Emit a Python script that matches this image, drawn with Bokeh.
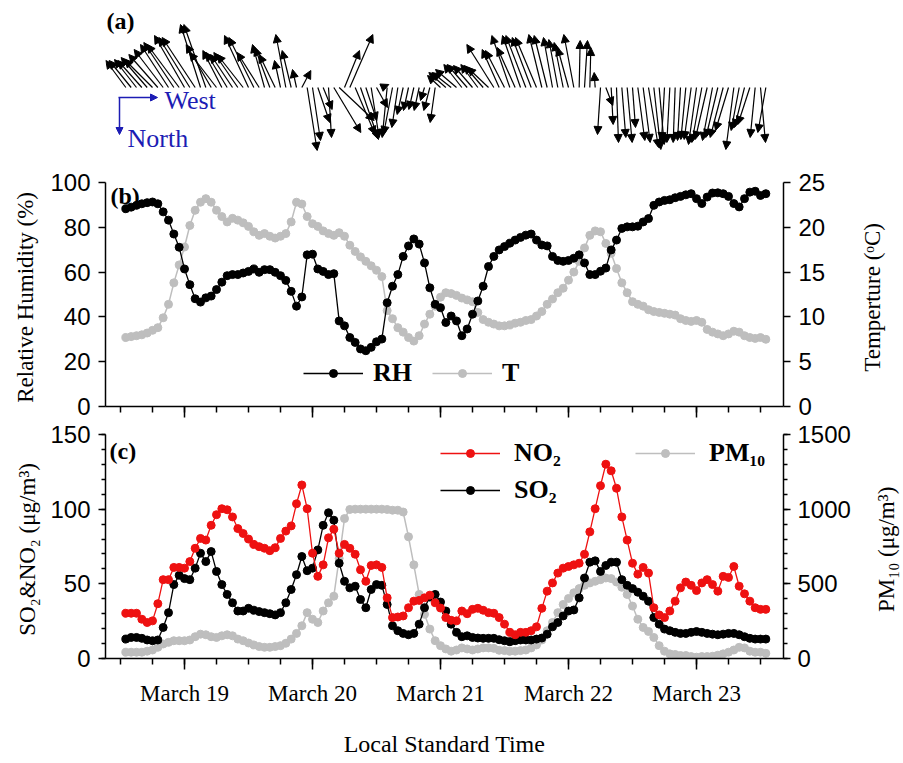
import math
from bokeh.plotting import figure
from bokeh.layouts import column, row
from bokeh.models import (Range1d, LinearAxis, FixedTicker, Arrow, NormalHead,
                          ColumnDataSource, Legend, LegendItem, Label, Spacer)
from bokeh.embed import file_html
from bokeh.resources import INLINE

# ---------------- data (hours since 18 March 00:00 LST) ----------------
hours = list(range(13, 134))

rh = [88.3, 89.0, 89.8, 90.5, 91.0, 91.3, 90.5, 86.9, 83.2, 77.0,
      71.1, 61.4, 54.4, 48.1, 46.6, 48.5, 49.3, 52.2, 55.5, 58.4,
      58.9, 58.9, 59.6, 60.3, 61.4, 59.9, 61.1, 61.1, 59.9, 58.4,
      56.3, 51.4, 44.8, 48.9, 67.7, 68.0, 61.4, 60.3, 58.9, 59.3,
      38.2, 36.0, 30.8, 28.6, 25.7, 24.9, 26.4, 28.9, 30.1, 46.3,
      53.7, 58.9, 67.0, 71.7, 74.8, 72.5, 64.1, 53.0, 45.6, 44.1,
      37.5, 40.4, 38.2, 31.6, 34.6, 41.2, 47.1, 53.7, 62.5, 67.0,
      69.9, 71.4, 72.9, 74.3, 75.5, 76.5, 77.0, 74.3, 72.1, 71.7,
      67.0, 65.2, 64.8, 65.2, 66.2, 67.7, 64.1, 58.9, 58.9, 60.4,
      61.8, 69.9, 74.3, 79.5, 80.2, 80.2, 80.5, 82.4, 83.9, 89.8,
      91.3, 92.0, 92.3, 93.2, 93.8, 94.5, 95.0, 92.8, 90.6, 93.5,
      95.3, 95.4, 95.0, 93.8, 90.6, 89.1, 92.8, 95.7, 96.1, 94.2,
      95.0]

temp = [7.7, 7.8, 7.9, 8.0, 8.2, 8.5, 8.8, 9.9, 11.4, 13.8,
        15.8, 17.8, 20.2, 21.9, 22.8, 23.2, 22.8, 21.9, 21.2, 20.6,
        21.0, 20.8, 20.5, 20.1, 19.5, 19.1, 19.3, 19.0, 18.8, 19.0,
        19.3, 20.6, 22.8, 22.6, 21.2, 20.4, 20.1, 19.6, 19.3, 19.1,
        19.4, 19.0, 18.0, 17.3, 16.7, 16.2, 15.7, 15.2, 14.5, 10.7,
        9.8, 8.8, 8.3, 7.7, 7.3, 7.9, 9.2, 10.3, 11.2, 12.2,
        12.7, 12.6, 12.4, 12.1, 11.9, 11.7, 10.5, 9.7, 9.4, 9.2,
        9.0, 9.0, 9.1, 9.3, 9.4, 9.6, 9.7, 10.1, 10.6, 11.4,
        12.0, 12.7, 13.2, 14.1, 15.0, 16.2, 17.7, 19.1, 19.6, 19.5,
        18.2, 17.1, 15.4, 13.8, 12.7, 11.7, 11.4, 11.2, 10.8, 10.6,
        10.5, 10.4, 10.3, 10.2, 9.8, 9.6, 9.5, 9.6, 9.4, 8.6,
        8.3, 8.1, 7.9, 8.1, 8.4, 8.3, 7.9, 7.7, 7.6, 7.7,
        7.5]

no2 = [30.3, 30.3, 30.3, 26.3, 24.1, 25.2, 36.7, 52.8, 52.8, 61.0,
       61.0, 60.5, 64.9, 73.8, 80.4, 79.3, 89.2, 96.3, 100.3, 99.6,
       94.8, 87.0, 83.7, 80.0, 76.4, 74.9, 73.8, 72.2, 74.2, 80.4,
       85.3, 88.8, 103.6, 116.2, 100.3, 70.5, 55.0, 62.7, 80.8, 86.6,
       70.5, 76.4, 73.8, 69.8, 59.4, 51.7, 62.3, 62.7, 61.0, 40.6,
       27.4, 27.8, 28.5, 34.0, 38.4, 38.9, 40.6, 42.4, 37.3, 33.8,
       27.4, 25.6, 25.2, 31.8, 30.0, 32.9, 33.6, 32.3, 30.7, 30.3,
       27.4, 23.0, 17.5, 15.9, 17.5, 17.5, 18.6, 21.2, 33.6, 45.1,
       50.6, 57.2, 60.5, 61.6, 62.7, 63.8, 69.8, 84.8, 100.3, 115.7,
       130.1, 125.7, 114.0, 94.8, 79.3, 63.8, 56.5, 61.0, 57.2, 34.0,
       29.2, 27.4, 31.8, 38.4, 47.3, 51.2, 49.0, 45.5, 50.6, 52.8,
       49.5, 45.1, 55.0, 54.3, 61.6, 48.4, 43.3, 38.4, 34.0, 32.9,
       32.9]

so2 = [13.0, 14.1, 14.1, 13.5, 12.4, 11.9, 12.4, 20.8, 30.7, 49.5,
       55.7, 53.5, 52.8, 60.5, 70.5, 64.9, 71.6, 58.3, 49.5, 42.9,
       37.3, 31.8, 31.8, 33.6, 32.3, 31.4, 30.7, 30.0, 29.2, 30.7,
       37.3, 46.2, 56.1, 68.3, 58.8, 60.5, 72.7, 89.2, 97.6, 92.6,
       63.8, 51.7, 47.3, 48.4, 39.5, 34.0, 46.2, 49.5, 49.0, 36.2,
       21.9, 18.6, 16.8, 15.9, 16.8, 23.0, 34.0, 41.1, 42.9, 37.8,
       31.8, 23.0, 17.5, 14.6, 15.2, 14.1, 13.7, 13.5, 13.5, 13.5,
       12.6, 11.9, 11.3, 11.9, 12.4, 12.4, 12.4, 13.0, 13.7, 16.3,
       21.2, 24.1, 28.5, 31.8, 32.5, 40.6, 53.9, 64.5, 65.4, 58.3,
       62.3, 64.5, 64.5, 52.8, 49.0, 46.8, 44.4, 41.7, 38.4, 27.4,
       23.0, 19.7, 18.6, 17.5, 16.8, 16.8, 17.5, 18.1, 17.5, 16.8,
       16.3, 15.9, 16.3, 16.8, 16.8, 15.9, 14.6, 13.5, 13.0, 13.0,
       13.0]

pm10 = [42, 42, 42, 42, 49, 57, 75, 97, 108, 119,
        119, 119, 124, 146, 163, 159, 146, 141, 152, 159,
        152, 130, 119, 104, 91, 80, 75, 75, 80, 86,
        102, 130, 168, 219, 307, 263, 241, 318, 373, 417,
        670, 937, 998, 1000, 1000, 1000, 1000, 1000, 1000, 998,
        993, 993, 981, 815, 627, 429, 296, 197, 119, 86,
        64, 49, 57, 71, 64, 57, 64, 71, 71, 68,
        55, 53, 49, 49, 53, 57, 71, 91, 124, 186,
        241, 307, 362, 402, 440, 468, 490, 506, 517, 528,
        539, 535, 512, 477, 429, 351, 263, 208, 181, 141,
        86, 49, 31, 27, 20, 20, 13, 9, 13, 13,
        15, 22, 31, 42, 57, 75, 71, 49, 42, 42,
        35]

# wind vector components (m/s): u positive toward "West" (right), v positive up
wind_u = [-2.0, -2.2, -2.2, -2.4, -2.6, -2.8, -2.9, -2.9, -2.8, -3.0,
          -3.2, -3.0, -3.1, -3.3, -2.0, -2.2, -2.5, -2.7, -1.9, -2.1,
          -2.2, -2.4, -2.6, -2.4, -2.5, -2.2, -1.2, -1.5, -1.6, -0.6,
          -1.0, -0.9, -0.4, 0.9, 1.0, 0.8, 1.2, 0.9, 0.3, 2.7,
          3.5, 1.5, 2.3, 2.0, 1.8, 1.1, 0.8, 1.1, 0.7, -0.5,
          -0.9, -0.6, -0.6, -0.5, -0.5, -0.5, -0.4, -0.6, -0.5, -1.3,
          -1.7, -1.9, -2.1, -1.8, -2.0, -1.9, -1.7, -1.9, -2.1, -2.7,
          -1.7, -1.9, -1.8, -1.8, -1.8, -2.0, -1.9, -2.1, -1.3, -1.3,
          -0.9, -0.9, -0.9, -1.1, -1.0, 0.1, 0.3, 0.1, -0.1, -0.3,
          0.7, 0.2, 0.2, 0.4, 0.5, 0.3, 0.7, 0.7, 1.0, 0.7,
          0.5, -0.3, -0.3, -0.2, -0.3, -0.5, -0.7, -0.8, -1.0, -1.2,
          -1.0, -1.2, -1.3, -1.3, -0.8, -0.8, -1.0, -1.2, -0.5, 0.5,
          -0.8]
wind_v = [2.7, 2.7, 2.8, 2.7, 3.0, 2.8, 3.3, 3.8, 4.3, 4.5,
          4.3, 5.2, 5.0, 5.0, 6.3, 6.3, 4.3, 3.5, 3.7, 3.5,
          3.3, 3.5, 3.3, 5.2, 5.0, 3.5, 4.3, 4.0, 3.3, 2.7,
          5.3, 3.7, 1.8, 1.7, -6.3, -5.3, -3.5, -2.2, -5.0, -4.5,
          -3.3, 3.7, 5.3, -4.7, -5.2, -3.3, -5.0, -2.0, 0.3, -5.0,
          -4.7, -4.0, -2.7, -2.3, -2.2, -2.3, -1.3, -2.3, -3.5, 1.2,
          1.5, 1.5, 1.8, 2.3, 2.3, 2.2, 2.3, 2.2, 2.0, 4.3,
          3.8, 3.7, 5.2, 4.0, 5.2, 5.2, 5.0, 5.0, 5.3, 5.2,
          5.0, 4.8, 4.5, 4.0, 5.3, 4.7, 4.7, 4.0, 1.5, -4.7,
          -1.8, -3.7, -5.5, -5.0, -5.5, -4.0, -5.3, -5.5, -6.0, -6.2,
          -5.7, -5.3, -5.5, -5.5, -5.3, -5.2, -5.2, -5.7, -5.5, -5.2,
          -5.3, -5.0, -5.0, -4.3, -6.2, -4.3, -4.0, -3.7, -5.0, -5.5,
          -4.5]

day_ticks = [24, 48, 72, 96, 120]
day_labels = ["March 19", "March 20", "March 21", "March 22", "March 23"]
six_hour_ticks = [12, 18, 24, 30, 36, 42, 48, 54, 60, 66, 72, 78, 84, 90,
                  96, 102, 108, 114, 120, 126, 132]
rh_ticks = [0, 20, 40, 60, 80, 100]
t_ticks = [0, 5, 10, 15, 20, 25]
gas_ticks = [0, 50, 100, 150]
gas_minor = [0, 10, 20, 30, 40, 50, 60, 70, 80, 90, 100, 110, 120, 130, 140, 150]
pm_ticks = [0, 500, 1000, 1500]
pm_minor = [0, 100, 200, 300, 400, 500, 600, 700, 800, 900, 1000, 1100,
            1200, 1300, 1400, 1500]

# ---------------- layout constants ----------------
X0, X1 = 9.1875, 136.3125
FRAME_W = 678
LB, RB = 105, 70
FRAME_L = LB
TITLE_COL_W = 50
PX_PER_H = FRAME_W / (X1 - X0)
ARROW_PX_PER_MS = 10.0
A_H, A_BASE = 158, 87
B_TOP, B_BOT, C_TOP, FRAME_H = 24, 14, 14, 224

SERIF = "Liberation Serif"
SANS = "Liberation Sans"
RED = "#EE1111"
GRAY = "#BEBEBE"
BLUE = "#1C1CB4"

xr = Range1d(X0, X1)


def hx(px):
    return X0 + (px - FRAME_L) / PX_PER_H


def make_fig(frame_h, y_range, top, bottom):
    p = figure(frame_width=FRAME_W, frame_height=frame_h, x_range=xr, y_range=y_range,
               x_axis_type=None, y_axis_type=None, output_backend="svg",
               toolbar_location=None, min_border_left=LB, min_border_right=RB,
               min_border_top=top, min_border_bottom=bottom)
    p.outline_line_color = None
    return p


def style_axis(ax, tick_out=7, minor_out=0, label_size="24px"):
    ax.axis_line_width = 1.5
    ax.axis_line_color = "black"
    ax.major_tick_line_width = 1.5
    ax.minor_tick_line_width = 1.5
    ax.major_tick_line_color = "black"
    ax.minor_tick_line_color = "black" if minor_out else None
    ax.major_tick_in = 0
    ax.major_tick_out = tick_out
    ax.minor_tick_in = 0
    ax.minor_tick_out = minor_out
    ax.major_label_text_font = SANS
    ax.major_label_text_font_size = label_size
    ax.major_label_text_color = "black"
    ax.axis_label_text_font = SERIF
    ax.axis_label_text_font_style = "normal"
    ax.axis_label_text_font_size = "23px"
    ax.axis_label_text_color = "black"


def title_fig(top, bottom, y_range, text, standoff):
    """Narrow figure that carries a right-hand axis title reading bottom-to-top."""
    f = figure(frame_width=1, frame_height=FRAME_H, x_range=Range1d(0, 1), y_range=y_range,
               x_axis_type=None, y_axis_type=None, output_backend="svg",
               toolbar_location=None, min_border_left=TITLE_COL_W - 1, min_border_right=0,
               min_border_top=top, min_border_bottom=bottom)
    f.outline_line_color = None
    ax = LinearAxis(ticker=FixedTicker(ticks=[]), axis_label=text)
    style_axis(ax)
    ax.axis_line_color = None
    ax.major_tick_line_color = None
    ax.major_tick_out = 0
    ax.major_label_text_font_size = "0px"
    ax.major_label_text_color = None
    ax.major_label_standoff = 0
    ax.axis_label_standoff = standoff
    f.add_layout(ax, "left")
    return f


# ---------------- panel (a): wind vectors ----------------
pa = make_fig(A_H, Range1d(A_BASE - A_H, A_BASE), 0, 0)
x_end = [h + u * ARROW_PX_PER_MS / PX_PER_H for h, u in zip(hours, wind_u)]
y_end = [v * ARROW_PX_PER_MS for v in wind_v]
wsrc = ColumnDataSource(dict(x0=hours, y0=[0.0] * len(hours), x1=x_end, y1=y_end))
pa.add_layout(Arrow(end=NormalHead(size=8, fill_color="black", line_color="black", line_width=1),
                    x_start="x0", y_start="y0", x_end="x1", y_end="y1", source=wsrc,
                    line_color="black", line_width=1.2))
# key
pa.add_layout(Arrow(end=NormalHead(size=7, fill_color=BLUE, line_color=BLUE, line_width=1),
                    x_start=hx(118), y_start=-10, x_end=hx(157), y_end=-10,
                    line_color=BLUE, line_width=1.5))
pa.add_layout(Arrow(end=NormalHead(size=7, fill_color=BLUE, line_color=BLUE, line_width=1),
                    x_start=hx(119), y_start=-10, x_end=hx(119), y_end=-47,
                    line_color=BLUE, line_width=1.5))
pa.add_layout(Label(x=hx(164), y=-13, text="West", text_font=SERIF, text_font_size="26px",
                    text_color=BLUE, text_baseline="middle"))
pa.add_layout(Label(x=hx(127), y=-51, text="North", text_font=SERIF, text_font_size="26px",
                    text_color=BLUE, text_baseline="middle"))
pa.add_layout(Label(x=hx(106), y=67, text="(a)", text_font=SERIF, text_font_size="24px",
                    text_font_style="bold", text_color="black", text_baseline="middle"))

# ---------------- panel (b): RH and T ----------------
pb = make_fig(FRAME_H, Range1d(0, 100), B_TOP, B_BOT)
pb.extra_y_ranges = {"t": Range1d(0, 25)}

ax = LinearAxis(ticker=FixedTicker(ticks=rh_ticks), axis_label="Relative Humidity  (%)")
style_axis(ax)
ax.major_label_standoff = 8
ax.axis_label_standoff = 9
pb.add_layout(ax, "left")

ax = LinearAxis(y_range_name="t", ticker=FixedTicker(ticks=t_ticks))
style_axis(ax)
ax.major_label_standoff = 8
pb.add_layout(ax, "right")

ax = LinearAxis(ticker=FixedTicker(ticks=day_ticks, minor_ticks=six_hour_ticks))
style_axis(ax, tick_out=11, minor_out=6)
ax.major_label_text_font_size = "0px"
ax.major_label_text_color = None
ax.major_label_standoff = 0
pb.add_layout(ax, "below")

t_line = pb.line(hours, temp, y_range_name="t", line_color=GRAY, line_width=1.5)
t_pts = pb.scatter(hours, temp, y_range_name="t", size=8, marker="circle",
                   fill_color=GRAY, line_color=GRAY)
rh_line = pb.line(hours, rh, line_color="black", line_width=1.3)
rh_pts = pb.scatter(hours, rh, size=8, marker="circle", fill_color="black", line_color="black")

leg_b = Legend(items=[LegendItem(label="RH", renderers=[rh_line, rh_pts]),
                      LegendItem(label="T", renderers=[t_line, t_pts])],
               location=(198, 18), orientation="horizontal", glyph_width=60, glyph_height=20,
               label_standoff=10, spacing=20, padding=0, margin=0, border_line_color=None,
               background_fill_alpha=0, label_text_font=SERIF, label_text_font_style="bold",
               label_text_font_size="26px", label_text_color="black")
pb.add_layout(leg_b)
pb.add_layout(Label(x=hx(110), y=94, text="(b)", text_font=SERIF, text_font_size="24px",
                    text_font_style="bold", text_color="black", text_baseline="middle"))

# ---------------- panel (c): gases and PM10 ----------------
pc = make_fig(FRAME_H, Range1d(0, 150), C_TOP, 0)
pc.extra_y_ranges = {"pm": Range1d(0, 1500)}

ax = LinearAxis(ticker=FixedTicker(ticks=gas_ticks, minor_ticks=gas_minor),
                axis_label="SO\u2082&NO\u2082  (\u03bcg/m\u00b3)")
style_axis(ax, minor_out=4)
ax.major_label_standoff = 8
ax.axis_label_standoff = 7
pc.add_layout(ax, "left")

ax = LinearAxis(y_range_name="pm", ticker=FixedTicker(ticks=pm_ticks, minor_ticks=pm_minor))
style_axis(ax, minor_out=4)
ax.major_label_standoff = 7
pc.add_layout(ax, "right")

ax = LinearAxis(ticker=FixedTicker(ticks=day_ticks, minor_ticks=six_hour_ticks),
                axis_label="Local Standard Time")
style_axis(ax, tick_out=11, minor_out=6, label_size="23px")
ax.major_label_text_font = SERIF
ax.major_label_overrides = {t: lab for t, lab in zip(day_ticks, day_labels)}
ax.major_label_standoff = 11
ax.axis_label_standoff = 22
ax.axis_label_text_font_size = "24px"
pc.add_layout(ax, "below")

pm_line = pc.line(hours, pm10, y_range_name="pm", line_color=GRAY, line_width=1.5)
pm_pts = pc.scatter(hours, pm10, y_range_name="pm", size=8, marker="circle",
                    fill_color=GRAY, line_color=GRAY)
so2_line = pc.line(hours, so2, line_color="black", line_width=1.3)
so2_pts = pc.scatter(hours, so2, size=8, marker="circle", fill_color="black", line_color="black")
no2_line = pc.line(hours, no2, line_color=RED, line_width=1.3)
no2_pts = pc.scatter(hours, no2, size=8, marker="circle", fill_color=RED, line_color=RED)

leg_kw = dict(glyph_width=60, glyph_height=20, label_standoff=14, padding=0, margin=0,
              border_line_color=None, background_fill_alpha=0, label_text_font=SERIF,
              label_text_font_style="bold", label_text_font_size="26px",
              label_text_color="black")
leg_c1 = Legend(items=[LegendItem(label="NO\u2082", renderers=[no2_line, no2_pts]),
                       LegendItem(label="SO\u2082", renderers=[so2_line, so2_pts])],
                location=(335, 153), orientation="vertical", spacing=7, **leg_kw)
leg_c2 = Legend(items=[LegendItem(label="PM\u2081\u2080", renderers=[pm_line, pm_pts])],
                location=(530, 190), orientation="vertical", **leg_kw)
pc.add_layout(leg_c1)
pc.add_layout(leg_c2)
pc.add_layout(Label(x=hx(109), y=139, text="(c)", text_font=SERIF, text_font_size="24px",
                    text_font_style="bold", text_color="black", text_baseline="middle"))

# ---------------- right-hand axis titles ----------------
t_title = title_fig(B_TOP, B_BOT, Range1d(0, 25), "Temperture  (\u1d52C)", 18)
pm_title = title_fig(C_TOP, 0, Range1d(0, 1500), "PM\u2081\u2080  (\u03bcg/m\u00b3)", 4)

left_col = column(pa, pb, pc, spacing=0)
right_col = column(Spacer(width=TITLE_COL_W, height=A_H), t_title, pm_title, spacing=0)
layout = row(left_col, right_col, spacing=0)
open("out.html", "w").write(file_html(layout, INLINE))
